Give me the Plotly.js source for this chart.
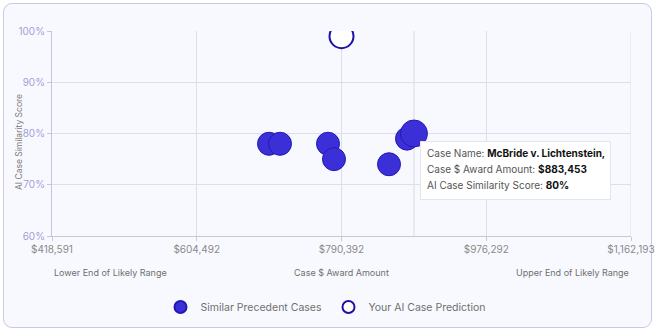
<!DOCTYPE html>
<html>
<head>
<meta charset="utf-8">
<script src="https://cdn.plot.ly/plotly-3.0.1.min.js"></script>
<style>
  html, body { margin: 0; padding: 0; background: #ffffff; }
  #card { position: absolute; left: 3px; top: 3px; width: 647px; height: 323px;
          border: 1.5px solid #c9c7ea; border-radius: 9px; background: #f8f9fe; }
  #chart { position: absolute; left: 0; top: 0; width: 657px; height: 333px; }
</style>
</head>
<body>
<div id="card"></div>
<div id="chart"></div>
<script>
// ---- data ----
const caseNames = ["Precedent A", "Precedent B", "Precedent C", "Precedent D", "Precedent E", "Precedent F", "McBride v. Lichtenstein,"];
const caseAwards = [697284, 711411, 773058, 780764, 851400, 874518, 883453];
const caseScores = [78, 78, 78, 75, 74, 79, 80];
const predictionAward = [790392];
const predictionScore = [99];
const xTickVals = [418591, 604492, 790392, 976292, 1162193];
const xTickText = ["$418,591", "$604,492", "$790,392", "$976,292", "$1,162,193"];
const yTickVals = [60, 70, 80, 90, 100];
const yTickText = ["60%", "70%", "80%", "90%", "100%"];
const hoveredIndex = 6;
const seriesNames = ["Similar Precedent Cases", "Your AI Case Prediction"];
const rangeLabels = ["Lower End of Likely Range", "Case $ Award Amount", "Upper End of Likely Range"];

const FONT = "Inter, 'Noto Sans', sans-serif";
const fmt = v => "$" + v.toLocaleString("en-US");

const sizes = caseAwards.map((_, i) => i === hoveredIndex ? 27 : 23);

const traces = [
  {
    type: "scatter", mode: "markers", name: seriesNames[0],
    x: caseAwards, y: caseScores, text: caseNames,
    marker: { size: sizes, opacity: 1, color: "#3b30d8", line: { color: "#2418b4", width: 1 } },
    hoverinfo: "none"
  },
  {
    type: "scatter", mode: "markers", name: seriesNames[1],
    x: predictionAward, y: predictionScore,
    marker: { size: 24, opacity: 1, color: "#ffffff", line: { color: "#1d12a6", width: 2 } },
    hoverinfo: "none"
  }
];

const hx = caseAwards[hoveredIndex], hy = caseScores[hoveredIndex];
const xEnd = xTickVals[xTickVals.length - 1];

const tipLines = [
  "Case Name: <b style='color:#111'>" + caseNames[hoveredIndex] + "</b>",
  "Case $ Award Amount: <b style='color:#111'>" + fmt(hx) + "</b>",
  "AI Case Similarity Score: <b style='color:#111'>" + hy + "%</b>"
];

const tipAnnotations = [
  { xref: "x", yref: "y", x: hx, y: hy, xanchor: "left", yanchor: "top",
    xshift: 6, yshift: -7, showarrow: false, text: " ",
    width: 189, height: 57, borderpad: 0,
    bgcolor: "#ffffff", bordercolor: "#e4e4ea", borderwidth: 1 }
].concat(tipLines.map((t, i) => ({
  xref: "x", yref: "y", x: hx, y: hy, xanchor: "left", yanchor: "middle",
  xshift: 11, yshift: -19 - 16 * i, showarrow: false, align: "left",
  font: { family: FONT, size: 10, color: "#555" }, text: t
})));

const layout = {
  width: 657, height: 333,
  paper_bgcolor: "rgba(0,0,0,0)", plot_bgcolor: "rgba(0,0,0,0)",
  margin: { l: 52, r: 26, t: 31, b: 97 },
  font: { family: FONT, size: 10, color: "#888" },
  showlegend: true,
  legend: {
    orientation: "h", x: 0.5, xanchor: "center", xref: "container",
    y: 0.078, yanchor: "middle", yref: "container",
    font: { family: FONT, size: 10.5, color: "#707070" }, itemsizing: "constant",
    traceorder: "normal", entrywidth: 123, entrywidthmode: "pixels"
  },
  xaxis: {
    range: [xTickVals[0], xEnd],
    tickmode: "array", tickvals: xTickVals, ticktext: xTickText,
    showgrid: true, gridcolor: "#dedee8", gridwidth: 1,
    showline: true, linecolor: "#c9c9d6", linewidth: 1,
    ticks: "outside", ticklen: 4, tickcolor: "#c9c9d6",
    tickfont: { family: FONT, size: 10, color: "#8a8a8a" },
    ticklabeloverflow: "allow",
    zeroline: false, fixedrange: true, automargin: false
  },
  yaxis: {
    range: [60, 100],
    tickmode: "array", tickvals: yTickVals, ticktext: yTickText,
    showgrid: true, gridcolor: "#dedee8", gridwidth: 1,
    showline: true, linecolor: "#c4c2e6", linewidth: 1,
    ticks: "outside", ticklen: 4, tickcolor: "#c4c2e6",
    tickfont: { family: FONT, size: 10, color: "#a29fd6" },
    zeroline: false, fixedrange: true, automargin: false
  },
  shapes: [
    { type: "line", xref: "x", yref: "paper", x0: hx, x1: hx, y0: 0, y1: 1,
      line: { color: "#d8d8e4", width: 1 }, layer: "below" },
    { type: "line", xref: "x", yref: "paper", x0: xEnd, x1: xEnd, y0: 0, y1: 1,
      line: { color: "#dedee8", width: 1 }, layer: "below" }
  ],
  annotations: [
    { xref: "paper", yref: "paper", x: -0.058, y: 0.46, text: "AI Case Similarity Score",
      textangle: -90, showarrow: false, xanchor: "center", yanchor: "middle",
      font: { family: FONT, size: 8.5, color: "#7a7a7a" } },
    { xref: "paper", yref: "paper", x: 0, y: -0.18, text: rangeLabels[0], showarrow: false,
      xanchor: "left", yanchor: "middle", font: { family: FONT, size: 9, color: "#6f6f6f" } },
    { xref: "paper", yref: "paper", x: 0.5, y: -0.18, text: rangeLabels[1], showarrow: false,
      xanchor: "center", yanchor: "middle", font: { family: FONT, size: 9, color: "#6f6f6f" } },
    { xref: "paper", yref: "paper", x: 1, y: -0.18, text: rangeLabels[2], showarrow: false,
      xanchor: "right", yanchor: "middle", font: { family: FONT, size: 9, color: "#6f6f6f" } }
  ].concat(tipAnnotations)
};

Plotly.newPlot("chart", traces, layout, { displayModeBar: false, staticPlot: true });
</script>
</body>
</html>
